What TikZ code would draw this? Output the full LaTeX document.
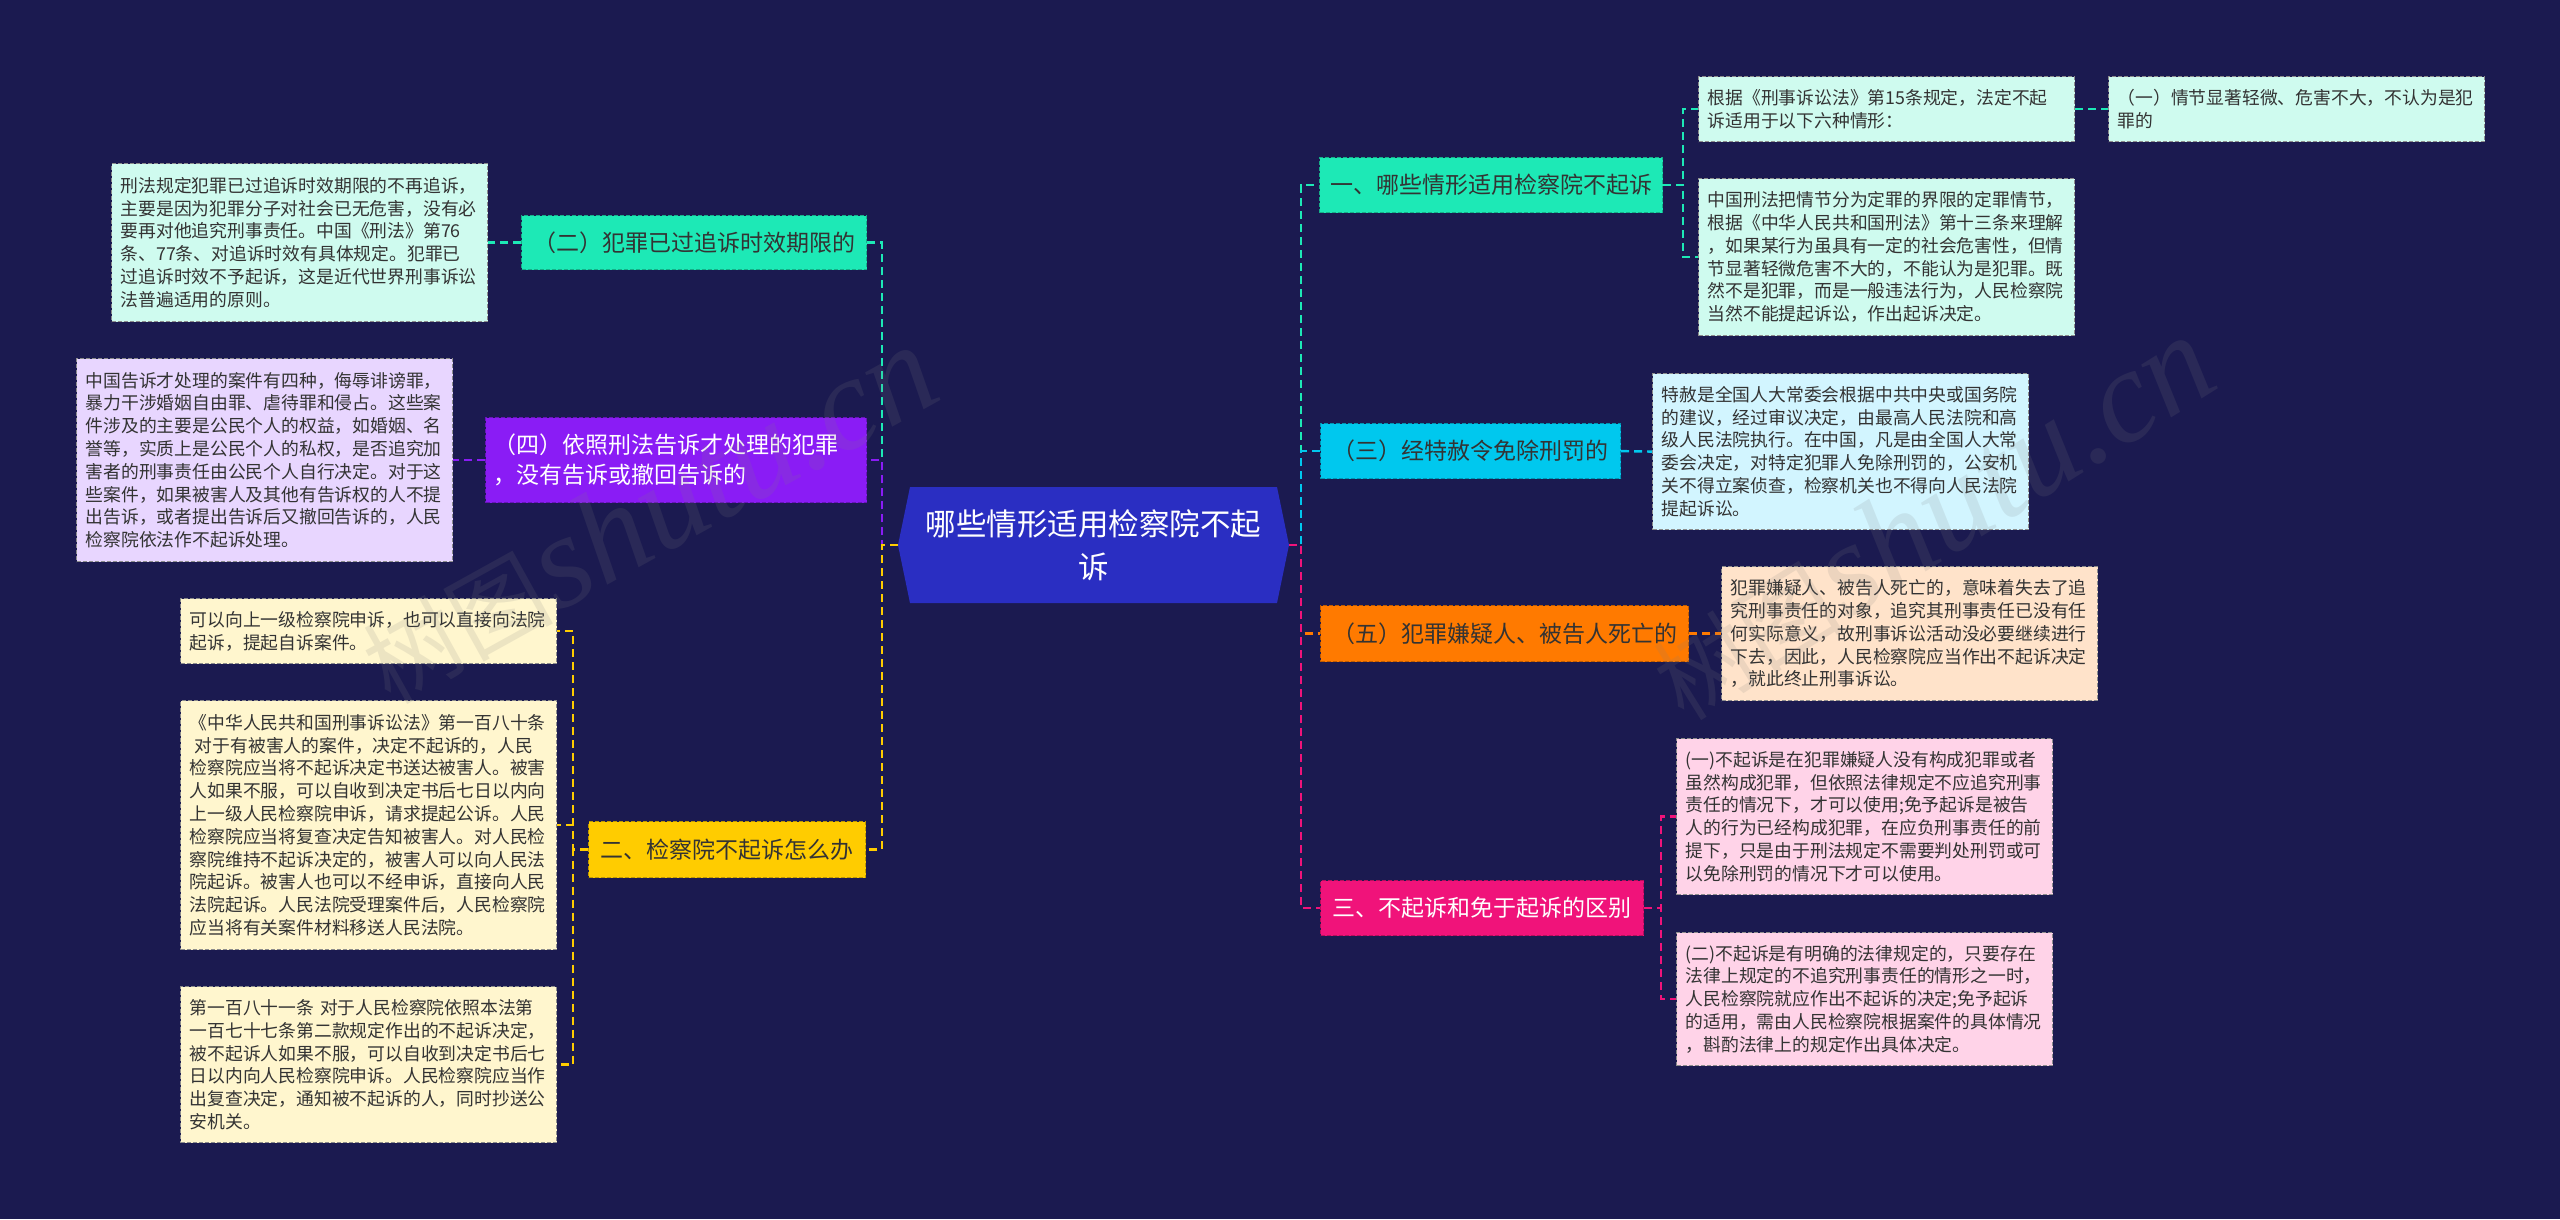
\documentclass[tikz,border=0pt]{standalone}
\usepackage{fontspec}
\setmainfont{Noto Sans CJK SC}
\newfontfamily\wmlatin{Liberation Serif}
\usetikzlibrary{calc}

\definecolor{bgc}{HTML}{1B1A50}
\definecolor{cenc}{HTML}{2A2EC2}
\definecolor{tealc}{HTML}{1DE9B6}
\definecolor{tealL}{HTML}{CFFBEF}
\definecolor{purc}{HTML}{8A1CF5}
\definecolor{purL}{HTML}{E8D6FF}
\definecolor{yelc}{HTML}{FFCC00}
\definecolor{yelL}{HTML}{FFF6CE}
\definecolor{cyac}{HTML}{00C8EE}
\definecolor{cyaL}{HTML}{D2F5FF}
\definecolor{orac}{HTML}{FF7A00}
\definecolor{oraL}{HTML}{FFE3CA}
\definecolor{pinc}{HTML}{F0137A}
\definecolor{pinL}{HTML}{FFD3E8}
\definecolor{txtc}{HTML}{333333}

\newcommand\leaffont{\fontsize{17.8pt}{22.8pt}\selectfont}
\newcommand\brfont{\fontsize{23pt}{30pt}\selectfont}
\newcommand\cenfont{\fontsize{30.5pt}{43pt}\selectfont}
\newcommand\wmtext{{\fontsize{95pt}{95pt}\selectfont 树图} {\wmlatin\itshape\fontsize{132pt}{132pt}\selectfont shutu.cn}}

\tikzset{
  conn/.style={line width=2.4pt, dash pattern=on 8pt off 5pt},
  brbox/.style={fill=#1, draw=#1!75!black, line width=1.2pt, dash pattern=on 4pt off 2pt, anchor=north west, inner sep=0pt, font=\brfont, text=txtc},
  leafbox/.style={fill=#1, draw=black!45, line width=1.2pt, dash pattern=on 4pt off 2pt, anchor=north west, inner xsep=9pt, inner ysep=0pt, text width=358pt, align=left, font=\leaffont, text=txtc},
  wmark/.style={opacity=0.15, text=gray, inner sep=0pt},
}

\begin{document}
\begin{tikzpicture}[x=1pt,y=-1pt]
\fill[bgc] (0,0) rectangle (2560,1219);
\useasboundingbox (0,0) rectangle (2560,1219);

% centre
\fill[cenc] (898,545) -- (910,487) -- (1277,487) -- (1289,545) -- (1277,603) -- (910,603) -- cycle;
\node[font=\cenfont, text=white, align=center, minimum width=391pt, minimum height=116pt, inner sep=0pt] (ctr) at (1093.5,545) {哪些情形适用检察院不起\\诉};

% left branches
\node[brbox=tealc, minimum width=345pt, minimum height=54pt] (A) at (521,215) {（二）犯罪已过追诉时效期限的};
\node[brbox=purc, text=white, inner xsep=8pt, text width=365pt, align=left, minimum height=85pt] (B) at (485,417) {（四）依照刑法告诉才处理的犯罪\\，没有告诉或撤回告诉的};
\node[brbox=yelc, minimum width=277pt, minimum height=56pt] (C) at (588,821) {二、检察院不起诉怎么办};

% right branches
\node[brbox=tealc, minimum width=343pt, minimum height=55pt] (D) at (1319,157) {一、哪些情形适用检察院不起诉};
\node[brbox=cyac, minimum width=300pt, minimum height=55pt] (E) at (1320,423) {（三）经特赦令免除刑罚的};
\node[brbox=orac, minimum width=368pt, minimum height=56pt] (F) at (1320,605) {（五）犯罪嫌疑人、被告人死亡的};
\node[brbox=pinc, text=white, minimum width=323pt, minimum height=55pt] (G) at (1320,880) {三、不起诉和免于起诉的区别};

% leaves left
\node[leafbox=tealL, minimum height=158pt] (Al) at (111,163) {刑法规定犯罪已过追诉时效期限的不再追诉，\\主要是因为犯罪分子对社会已无危害，没有必\\要再对他追究刑事责任。中国《刑法》第76\\条、77条、对追诉时效有具体规定。犯罪已\\过追诉时效不予起诉，这是近代世界刑事诉讼\\法普遍适用的原则。};
\node[leafbox=purL, minimum height=203pt] (Bl) at (76,358) {中国告诉才处理的案件有四种，侮辱诽谤罪，\\暴力干涉婚姻自由罪、虐待罪和侵占。这些案\\件涉及的主要是公民个人的权益，如婚姻、名\\誉等，实质上是公民个人的私权，是否追究加\\害者的刑事责任由公民个人自行决定。对于这\\些案件，如果被害人及其他有告诉权的人不提\\出告诉，或者提出告诉后又撤回告诉的，人民\\检察院依法作不起诉处理。};
\node[leafbox=yelL, minimum height=65pt] (C1) at (180,598) {可以向上一级检察院申诉，也可以直接向法院\\起诉，提起自诉案件。};
\node[leafbox=yelL, minimum height=249pt] (C2) at (180,700) {《中华人民共和国刑事诉讼法》第一百八十条\\\hspace*{0.3em}对于有被害人的案件，决定不起诉的，人民\\检察院应当将不起诉决定书送达被害人。被害\\人如果不服，可以自收到决定书后七日以内向\\上一级人民检察院申诉，请求提起公诉。人民\\检察院应当将复查决定告知被害人。对人民检\\察院维持不起诉决定的，被害人可以向人民法\\院起诉。被害人也可以不经申诉，直接向人民\\法院起诉。人民法院受理案件后，人民检察院\\应当将有关案件材料移送人民法院。};
\node[leafbox=yelL, minimum height=156pt] (C3) at (180,986) {第一百八十一条 对于人民检察院依照本法第\\一百七十七条第二款规定作出的不起诉决定，\\被不起诉人如果不服，可以自收到决定书后七\\日以内向人民检察院申诉。人民检察院应当作\\出复查决定，通知被不起诉的人，同时抄送公\\安机关。};

% leaves right
\node[leafbox=tealL, minimum height=65pt] (D1) at (1698,76) {根据《刑事诉讼法》第15条规定，法定不起\\诉适用于以下六种情形：};
\node[leafbox=tealL, minimum height=65pt] (D1a) at (2108,76) {（一）情节显著轻微、危害不大，不认为是犯\\罪的};
\node[leafbox=tealL, minimum height=157pt] (D2) at (1698,178) {中国刑法把情节分为定罪的界限的定罪情节，\\根据《中华人民共和国刑法》第十三条来理解\\，如果某行为虽具有一定的社会危害性，但情\\节显著轻微危害不大的，不能认为是犯罪。既\\然不是犯罪，而是一般违法行为，人民检察院\\当然不能提起诉讼，作出起诉决定。};
\node[leafbox=cyaL, minimum height=156pt] (E1) at (1652,373) {特赦是全国人大常委会根据中共中央或国务院\\的建议，经过审议决定，由最高人民法院和高\\级人民法院执行。在中国，凡是由全国人大常\\委会决定，对特定犯罪人免除刑罚的，公安机\\关不得立案侦查，检察机关也不得向人民法院\\提起诉讼。};
\node[leafbox=oraL, minimum height=134pt] (F1) at (1721,566) {犯罪嫌疑人、被告人死亡的，意味着失去了追\\究刑事责任的对象，追究其刑事责任已没有任\\何实际意义，故刑事诉讼活动没必要继续进行\\下去，因此，人民检察院应当作出不起诉决定\\，就此终止刑事诉讼。};
\node[leafbox=pinL, minimum height=156pt] (G1) at (1676,738) {(一)不起诉是在犯罪嫌疑人没有构成犯罪或者\\虽然构成犯罪，但依照法律规定不应追究刑事\\责任的情况下，才可以使用;免予起诉是被告\\人的行为已经构成犯罪，在应负刑事责任的前\\提下，只是由于刑法规定不需要判处刑罚或可\\以免除刑罚的情况下才可以使用。};
\node[leafbox=pinL, minimum height=133pt] (G2) at (1676,932) {(二)不起诉是有明确的法律规定的，只要存在\\法律上规定的不追究刑事责任的情形之一时，\\人民检察院就应作出不起诉的决定;免予起诉\\的适用，需由人民检察院根据案件的具体情况\\，斟酌法律上的规定作出具体决定。};

% centre to branches
\draw[conn,tealc] (ctr.west) -- ++(-16,0) |- (A.east);
\draw[conn,purc] (ctr.west) -- ++(-16,0) |- (B.east);
\draw[conn,yelc] (ctr.west) -- ++(-16,0) |- (C.east);
\draw[conn,tealc] (ctr.east) -- ++(12,0) |- (D.west);
\draw[conn,cyac] (ctr.east) -- ++(12,0) |- (E.west);
\draw[conn,orac] (ctr.east) -- ++(12,0) |- (F.west);
\draw[conn,pinc] (ctr.east) -- ++(12,0) |- (G.west);

% branches to leaves
\draw[conn,tealc] (A.west) -- (Al.east);
\draw[conn,purc] (B.west) -- (Bl.east);
\draw[conn,yelc] (C.west) -- ++(-15,0) |- (C1.east);
\draw[conn,yelc] (C.west) -- ++(-15,0) |- (C2.east);
\draw[conn,yelc] (C.west) -- ++(-15,0) |- (C3.east);
\draw[conn,tealc] (D.east) -- ++(20,0) |- (D1.west);
\draw[conn,tealc] (D.east) -- ++(20,0) |- (D2.west);
\draw[conn,tealc] (D1.east) -- (D1a.west);
\draw[conn,cyac] (E.east) -- (E1.west);
\draw[conn,orac] (F.east) -- (F1.west);
\draw[conn,pinc] (G.east) -- ++(17,0) |- (G1.west);
\draw[conn,pinc] (G.east) -- ++(17,0) |- (G2.west);

% watermarks
\node[wmark, rotate=29] (wm1) at (648,515) {\wmtext};
\node[wmark, rotate=32] (wm2) at (1932,518) {\wmtext};
\end{tikzpicture}
\end{document}
